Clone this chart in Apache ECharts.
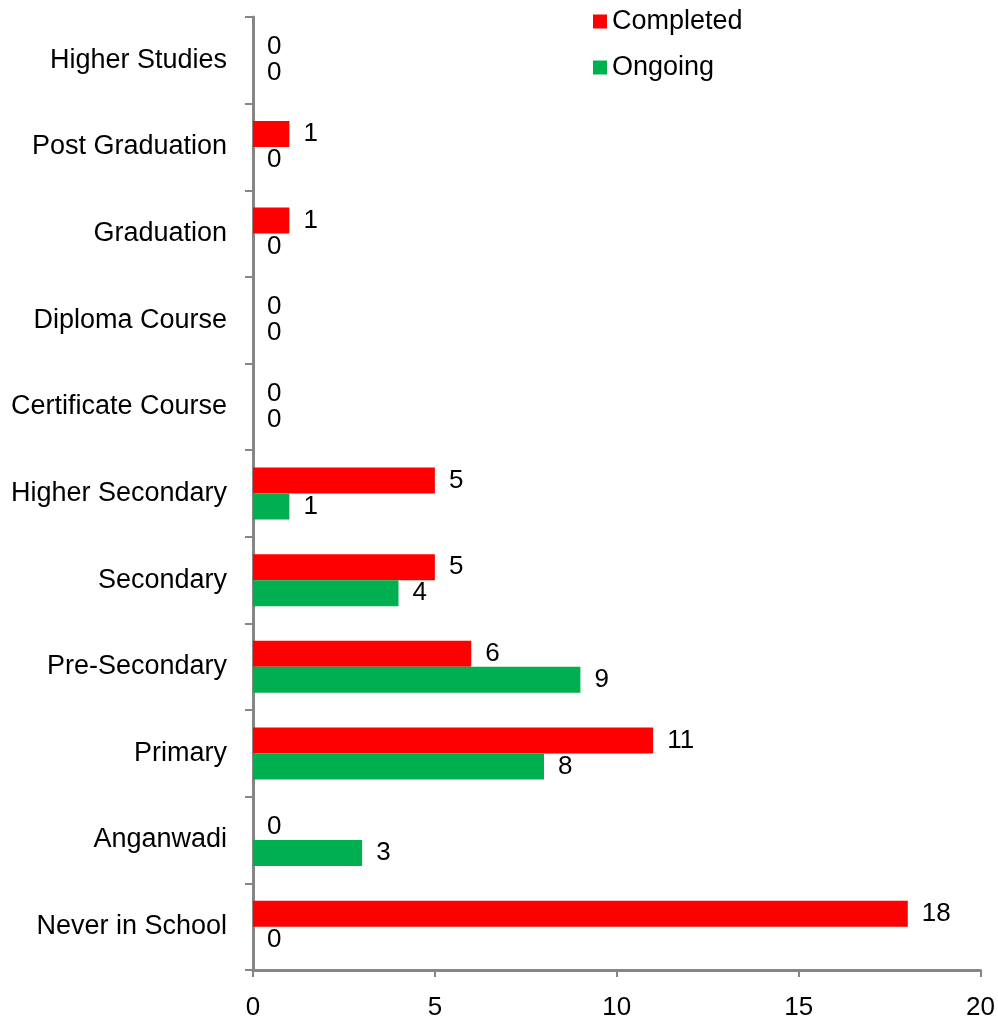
<!DOCTYPE html>
<html>
<head>
<meta charset="utf-8">
<script src="https://cdn.jsdelivr.net/npm/echarts@6/dist/echarts.min.js"></script>
<style>
html,body{margin:0;padding:0;background:#fff;}
#chart{width:998px;height:1028px;}
</style>
</head>
<body>
<div id="chart"></div>
<script>
const categories = ['Never in School','Anganwadi','Primary','Pre-Secondary','Secondary','Higher Secondary','Certificate Course','Diploma Course','Graduation','Post Graduation','Higher Studies'];
const completed = [18,0,11,6,5,5,0,0,1,1,0];
const ongoing = [0,3,8,9,4,1,0,0,0,0,0];
const xTicks = [0,5,10,15,20];

const font = "'Liberation Sans', Arial, sans-serif";
const chart = echarts.init(document.getElementById('chart'));
const labelCfg = {show:true, position:'right', distance:14, color:'#000', fontSize:26, fontFamily:font};
chart.setOption({
  animation:false,
  legend:{
    orient:'vertical', left:588, top:3,
    itemWidth:14, itemHeight:14, itemGap:19,
    icon:'rect',
    textStyle:{fontSize:27, fontFamily:font, color:'#000'},
    data:['Completed','Ongoing']
  },
  grid:{left:253, right:15, top:17, bottom:58, containLabel:false},
  xAxis:{
    type:'value', min:xTicks[0], max:xTicks[xTicks.length-1], interval:5,
    axisLine:{show:true, lineStyle:{color:'#868686', width:3}},
    axisTick:{show:true, length:7, lineStyle:{color:'#868686', width:2}},
    axisLabel:{color:'#000', fontSize:26, fontFamily:font, margin:25},
    splitLine:{show:false}
  },
  yAxis:{
    type:'category', data:categories,
    axisLine:{show:true, lineStyle:{color:'#868686', width:3}},
    axisTick:{show:true, length:8, lineStyle:{color:'#868686', width:2}},
    axisLabel:{color:'#000', fontSize:27, fontFamily:font, margin:26}
  },
  series:[
    {name:'Completed', type:'bar', data:completed, itemStyle:{color:'#FF0000'},
     barGap:'0%', barCategoryGap:'40%', label:labelCfg},
    {name:'Ongoing', type:'bar', data:ongoing, itemStyle:{color:'#00B050'},
     barGap:'0%', barCategoryGap:'40%', label:labelCfg}
  ]
});
</script>
</body>
</html>
